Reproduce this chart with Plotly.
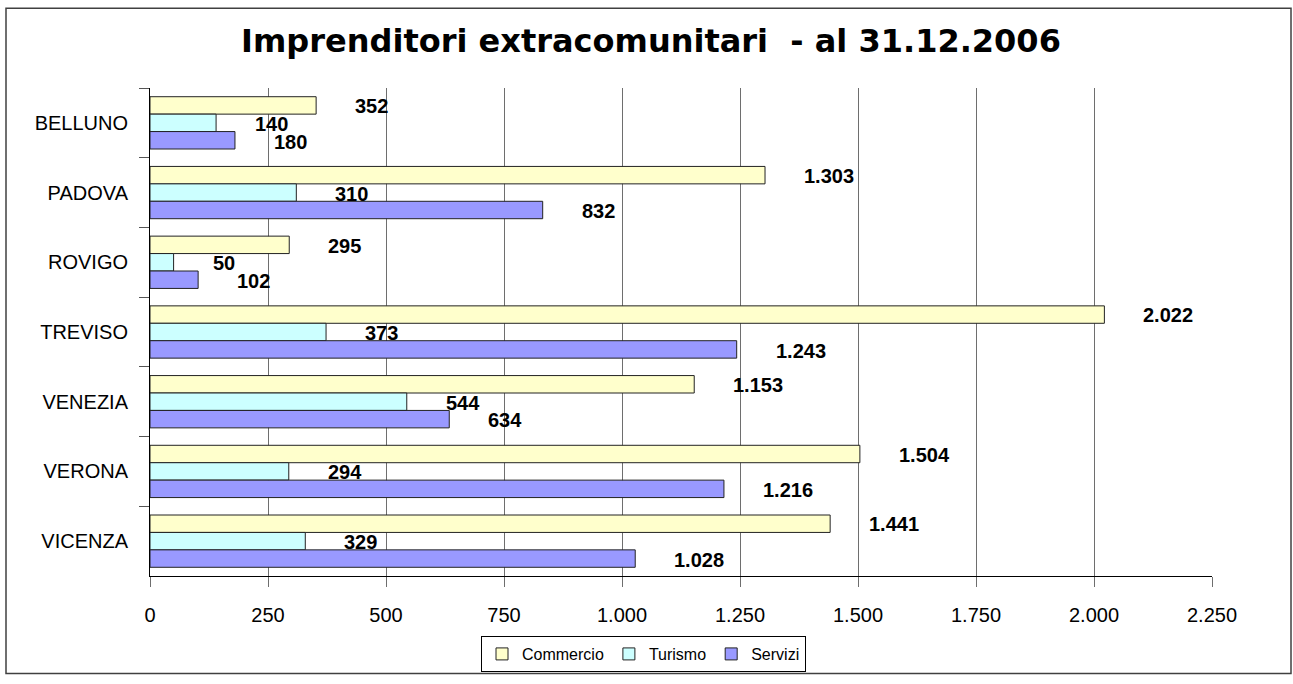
import plotly.graph_objects as go

categories = ["BELLUNO", "PADOVA", "ROVIGO", "TREVISO", "VENEZIA", "VERONA", "VICENZA"]
commercio = [352, 1303, 295, 2022, 1153, 1504, 1441]
turismo = [140, 310, 50, 373, 544, 294, 329]
servizi = [180, 832, 102, 1243, 634, 1216, 1028]
series_names = ["Commercio", "Turismo", "Servizi"]
series_values = [commercio, turismo, servizi]
colors = ["#FFFFCC", "#CCFFFF", "#9999FF"]
tick_vals = [0, 250, 500, 750, 1000, 1250, 1500, 1750, 2000, 2250]

W, H = 1293, 684
L, R, T, B = 150, 81, 88, 100
PW, PH = W - L - R, H - T - B

def it(v):
    return f"{v:,}".replace(",", ".")

fig = go.Figure()
for name, vals, col in zip(series_names, series_values, colors):
    fig.add_trace(go.Bar(
        y=categories, x=vals, name=name, orientation="h",
        marker=dict(color=col, line=dict(color="#222222", width=1)),
    ))

# data labels placed right of bar ends (offset like the original)
band = PH / len(categories)
bar_h = band * 0.75 / 3
shifts = [bar_h, 0, -bar_h]
annotations = []
for vals, ys in zip(series_values, shifts):
    for c, v in zip(categories, vals):
        annotations.append(dict(
            x=v, y=c, xref="x", yref="y", text="<b>" + it(v) + "</b>",
            showarrow=False, xanchor="left", yanchor="middle",
            xshift=37, yshift=ys - 1,
            font=dict(family="Liberation Sans, Arial", size=20, color="black"),
        ))

fig.update_layout(
    width=W, height=H,
    margin=dict(l=L, r=R, t=T, b=B),
    paper_bgcolor="white", plot_bgcolor="white",
    separators=",.",
    barmode="group", bargap=0.25, bargroupgap=0,
    title=dict(text="<b>Imprenditori extracomunitari  - al 31.12.2006</b>",
               x=(239 + 1063) / 2 / W, xref="container", xanchor="center",
               y=1 - 41 / H, yref="container", yanchor="middle",
               font=dict(family="DejaVu Sans", size=32, color="black")),
    font=dict(family="Liberation Sans, Arial", size=20, color="black"),
    xaxis=dict(range=[0, 2250], tickvals=tick_vals, tickformat=",d",
               showgrid=True, gridcolor="#6e6e6e", gridwidth=1,
               showline=True, linecolor="black", linewidth=1,
               ticks="outside", ticklen=10, tickcolor="#6e6e6e",
               ticklabelstandoff=11, zeroline=False,
               tickfont=dict(size=20)),
    yaxis=dict(autorange="reversed", showgrid=False,
               showline=True, linecolor="black", linewidth=1,
               ticks="outside", ticklen=10, tickcolor="#555555",
               tickson="boundaries", ticklabelstandoff=17,
               tickfont=dict(size=20)),
    legend=dict(orientation="h", x=(643.5 - L) / PW, xanchor="center",
                y=(PH + T - 645) / PH, yanchor="top",
                bordercolor="black", borderwidth=1,
                font=dict(size=16), traceorder="normal",
                itemwidth=30),
    annotations=annotations,
    shapes=[dict(type="rect", xref="paper", yref="paper",
                 x0=(6 - L) / PW, x1=(1291 - L) / PW,
                 y0=(T + PH - 683) / PH, y1=(T + PH - 7) / PH,
                 line=dict(color="#404040", width=1.5), layer="below")],
    showlegend=True,
)

fig.write_html("out.html",
               config={"displayModeBar": False},
               post_script="document.body.style.margin='0';document.body.style.overflow='hidden';")
